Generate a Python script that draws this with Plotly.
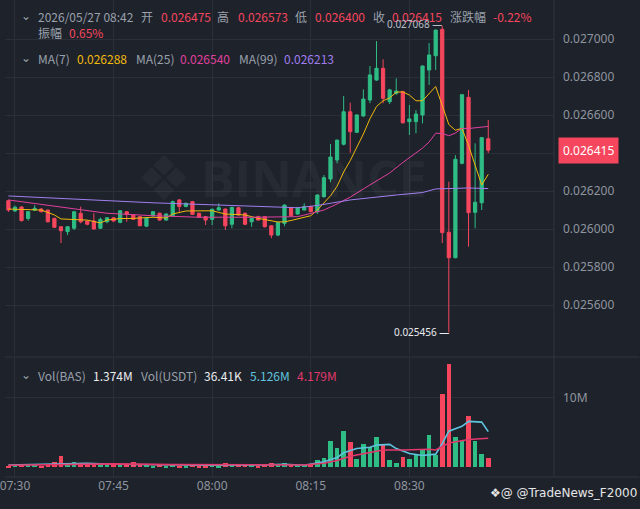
import pandas as pd
import plotly.graph_objects as go
from plotly.subplots import make_subplots

# 1-minute candles, 07:29 -> 08:42
start_time = "2026-05-27 07:29"

opens = [0.026149, 0.026095, 0.026116, 0.026056, 0.026099, 0.026105, 0.026100, 0.026056, 0.026012, 0.025986,
         0.026004, 0.026083, 0.026042, 0.026042, 0.026004, 0.026038, 0.026059, 0.026035, 0.026091, 0.026074,
         0.026065, 0.026015, 0.026070, 0.026083, 0.026047, 0.026070, 0.026153, 0.026118, 0.026144, 0.026083,
         0.026065, 0.026051, 0.026100, 0.026105, 0.026025, 0.026112, 0.026083, 0.026038, 0.026065, 0.026065,
         0.026017, 0.025968, 0.026030, 0.026112, 0.026079, 0.026100, 0.026118, 0.026091, 0.026170, 0.026263,
         0.026363, 0.026446, 0.026617, 0.026509, 0.026595, 0.026679, 0.026784, 0.026846, 0.026670, 0.026714,
         0.026723, 0.026565, 0.026565, 0.026600, 0.026837, 0.026912, 0.027051, 0.025983, 0.025849, 0.026346,
         0.026693, 0.026088, 0.026138, 0.026475]
highs = [0.026155, 0.026123, 0.026120, 0.026095, 0.026126, 0.026110, 0.026102, 0.026060, 0.026012, 0.026015,
         0.026093, 0.026118, 0.026045, 0.026083, 0.026060, 0.026062, 0.026062, 0.026100, 0.026093, 0.026078,
         0.026068, 0.026062, 0.026093, 0.026086, 0.026083, 0.026150, 0.026158, 0.026140, 0.026148, 0.026085,
         0.026068, 0.026107, 0.026135, 0.026108, 0.026116, 0.026115, 0.026086, 0.026058, 0.026070, 0.026068,
         0.026020, 0.026038, 0.026130, 0.026116, 0.026116, 0.026135, 0.026120, 0.026182, 0.026284, 0.026447,
         0.026470, 0.026700, 0.026665, 0.026605, 0.026735, 0.026858, 0.026989, 0.026893, 0.026738, 0.026793,
         0.026728, 0.026653, 0.026626, 0.026860, 0.026979, 0.027050, 0.027068, 0.026249, 0.026389, 0.026710,
         0.026732, 0.026451, 0.026484, 0.026573]
lows = [0.026090, 0.026090, 0.026040, 0.026044, 0.026095, 0.026088, 0.026035, 0.026005, 0.025926, 0.025968,
        0.025995, 0.026030, 0.026020, 0.025998, 0.026000, 0.026030, 0.026038, 0.026030, 0.026038, 0.026048,
        0.026015, 0.026010, 0.026065, 0.026044, 0.026044, 0.026068, 0.026091, 0.026115, 0.026074, 0.026060,
        0.026021, 0.026021, 0.026098, 0.025995, 0.026004, 0.026070, 0.026020, 0.026012, 0.026044, 0.026008,
        0.025951, 0.025962, 0.026015, 0.026065, 0.026075, 0.026098, 0.026088, 0.026079, 0.026165, 0.026246,
        0.026346, 0.026440, 0.026402, 0.026505, 0.026590, 0.026662, 0.026780, 0.026662, 0.026658, 0.026705,
        0.026555, 0.026495, 0.026504, 0.026556, 0.026758, 0.026837, 0.025926, 0.025456, 0.025846, 0.026340,
        0.025907, 0.026004, 0.026100, 0.026400]
closes = [0.026100, 0.026115, 0.026044, 0.026091, 0.026109, 0.026091, 0.026038, 0.026009, 0.025991, 0.026012,
          0.026091, 0.026038, 0.026025, 0.026000, 0.026051, 0.026059, 0.026042, 0.026096, 0.026077, 0.026051,
          0.026017, 0.026059, 0.026091, 0.026047, 0.026079, 0.026144, 0.026118, 0.026135, 0.026077, 0.026062,
          0.026047, 0.026104, 0.026112, 0.026017, 0.026114, 0.026074, 0.026025, 0.026056, 0.026047, 0.026012,
          0.025968, 0.026035, 0.026126, 0.026070, 0.026112, 0.026118, 0.026091, 0.026179, 0.026270, 0.026379,
          0.026468, 0.026617, 0.026512, 0.026600, 0.026684, 0.026811, 0.026846, 0.026688, 0.026732, 0.026726,
          0.026559, 0.026579, 0.026605, 0.026858, 0.026916, 0.027047, 0.025981, 0.025849, 0.026367, 0.026707,
          0.026086, 0.026141, 0.026481, 0.026415]

# volume in millions
volumes = [0.25, 0.35, 0.3, 0.35, 0.3, 0.25, 0.35, 0.8, 1.6, 0.35,
           0.8, 0.6, 0.5, 0.5, 0.45, 0.35, 0.3, 0.35, 0.3, 0.75,
           0.35, 0.3, 0.25, 0.3, 0.2, 0.3, 0.25, 0.2, 0.3, 0.2,
           0.25, 0.3, 0.2, 0.7, 0.35, 0.3, 0.3, 0.3, 0.2, 0.3,
           0.65, 0.55, 0.65, 0.3, 0.3, 0.3, 0.3, 1.1, 1.4, 3.8,
           2.8, 5.2, 3.7, 1.2, 3.4, 2.9, 4.3, 3.2, 1.1, 0.6,
           1.5, 1.2, 1.9, 2.6, 4.7, 1.8, 10.6, 14.9, 4.3, 3.8,
           7.4, 3.8, 1.9, 1.374]

# moving averages (candle index, value)
ma7_idx = [0, 5, 7, 8, 10, 12, 14, 15, 17, 19, 22, 24, 25, 27, 31, 33, 36, 38, 41, 42, 43, 44, 45, 46,
           47, 48, 49, 50, 51, 52, 53, 54, 55, 56, 57, 58, 59, 60, 61, 62, 63, 64, 65, 66, 67, 68, 69,
           70, 71, 72, 73]
ma7_val = [0.026105, 0.026100, 0.026074, 0.026053, 0.026050, 0.026047, 0.026032, 0.026047, 0.026055,
           0.026056, 0.026062, 0.026058, 0.026079, 0.026095, 0.026096, 0.026079, 0.026074, 0.026056,
           0.026037, 0.026038, 0.026045, 0.026053, 0.026063, 0.026070, 0.026100, 0.026135, 0.026175,
           0.026225, 0.026300, 0.026360, 0.026430, 0.026500, 0.026580, 0.026645, 0.026675, 0.026690,
           0.026720, 0.026722, 0.026705, 0.026675, 0.026675, 0.026710, 0.026750, 0.026650, 0.026550,
           0.026520, 0.026530, 0.026440, 0.026335, 0.026232, 0.026288]
ma25_idx = [0, 3, 7, 12, 15, 22, 29, 37, 44, 46, 48, 50, 52, 54, 56, 58, 60, 62, 63, 64, 65, 66, 67,
            68, 69, 70, 71, 72, 73]
ma25_val = [0.026153, 0.026139, 0.026118, 0.026095, 0.026083, 0.026070, 0.026062, 0.026062, 0.026065,
            0.026082, 0.026100, 0.026132, 0.026168, 0.026211, 0.026253, 0.026295, 0.026350, 0.026398,
            0.026426, 0.026458, 0.026504, 0.026503, 0.026491, 0.026505, 0.026530, 0.026529, 0.026532,
            0.026537, 0.026540]
ma99_idx = [0, 22, 44, 47, 52, 57, 59, 63, 65, 67, 70, 73]
ma99_val = [0.026174, 0.026138, 0.026112, 0.026124, 0.026153, 0.026174, 0.026179, 0.026192, 0.026211,
            0.026213, 0.026216, 0.026213]

vol_ma5_idx = [0, 4, 8, 12, 16, 22, 30, 38, 42, 45, 47, 48, 50, 51, 53, 55, 56, 58, 59, 61, 63, 65,
               66, 67, 69, 70, 72, 73]
vol_ma5_val = [0.35, 0.45, 0.55, 0.6, 0.45, 0.35, 0.3, 0.35, 0.45, 0.3, 0.6, 0.8, 1.4, 2.1, 2.7, 2.9,
               3.2, 3.3, 2.7, 2.0, 1.7, 1.9, 3.4, 5.2, 5.9, 6.6, 6.5, 5.126]
vol_ma10_idx = [0, 8, 16, 25, 35, 45, 48, 50, 52, 55, 57, 60, 64, 65, 67, 70, 73]
vol_ma10_val = [0.3, 0.45, 0.5, 0.4, 0.35, 0.35, 0.6, 1.0, 1.6, 2.1, 2.5, 2.5, 2.6, 2.5, 3.5, 4.0, 4.179]

price_ticks = [0.0256, 0.0258, 0.026, 0.0262, 0.0264, 0.0266, 0.0268, 0.027]
time_ticks = ["2026-05-27 07:30", "2026-05-27 07:45", "2026-05-27 08:00",
              "2026-05-27 08:15", "2026-05-27 08:30"]

GREEN = "#2ebd85"
RED = "#f6465d"
BG = "#1e222b"
GRID = "#2a2f38"
GREY = "#8e959f"

times = pd.date_range(start_time, periods=len(opens), freq="min")
bar_colors = [GREEN if c >= o else RED for o, c in zip(opens, closes)]

fig = make_subplots(rows=2, cols=1, shared_xaxes=True, vertical_spacing=0)

fig.add_trace(go.Candlestick(
    x=times, open=opens, high=highs, low=lows, close=closes,
    increasing=dict(line=dict(color=GREEN, width=1), fillcolor=GREEN),
    decreasing=dict(line=dict(color=RED, width=1), fillcolor=RED),
    whiskerwidth=0, showlegend=False, hoverinfo="skip"), row=1, col=1)

for idx, val, col in [(ma7_idx, ma7_val, "#f0b90b"),
                      (ma25_idx, ma25_val, "#e0409f"),
                      (ma99_idx, ma99_val, "#a07ef0")]:
    fig.add_trace(go.Scatter(x=times[idx], y=val, mode="lines",
                             line=dict(color=col, width=1), showlegend=False,
                             hoverinfo="skip"), row=1, col=1)

fig.add_trace(go.Bar(x=times, y=volumes, marker=dict(color=bar_colors, line=dict(width=0)),
                     width=42000, showlegend=False, hoverinfo="skip"), row=2, col=1)
fig.add_trace(go.Scatter(x=times[vol_ma5_idx], y=vol_ma5_val, mode="lines",
                         line=dict(color="#5ec4de", width=1.6), showlegend=False,
                         hoverinfo="skip"), row=2, col=1)
fig.add_trace(go.Scatter(x=times[vol_ma10_idx], y=vol_ma10_val, mode="lines",
                         line=dict(color="#e2386b", width=1.6), showlegend=False,
                         hoverinfo="skip"), row=2, col=1)

x_range = [times[0] - pd.Timedelta(seconds=31), times[0] + pd.Timedelta(minutes=83)]

fig.update_xaxes(range=x_range, showgrid=True, gridcolor=GRID, gridwidth=1, zeroline=False,
                 tickvals=time_ticks, tickformat="%H:%M", showline=False, ticks="",
                 ticklabeloverflow="allow", rangeslider=dict(visible=False))
fig.update_xaxes(showticklabels=False, row=1, col=1)
fig.update_xaxes(tickfont=dict(family="Noto Sans", size=12, color=GREY), row=2, col=1)

# the last-price tag sits on the 0.026400 level, so that label stays blank
price_text = ["" if abs(p - 0.0264) < 1e-9 else f"{p:.6f}" for p in price_ticks]

fig.update_layout(
    width=640, height=509,
    margin=dict(l=0, r=86, t=0, b=32),
    paper_bgcolor=BG, plot_bgcolor=BG,
    yaxis=dict(domain=[1 - 355 / 477, 1], side="right", range=[0.025337, 0.0272053],
               tickvals=price_ticks, ticktext=price_text, showgrid=True, gridcolor=GRID,
               zeroline=False, ticks="", ticklabelstandoff=8,
               tickfont=dict(family="Noto Sans", size=12, color=GREY)),
    yaxis2=dict(domain=[0, 1 - 358 / 477], side="right", range=[-1.38, 15.7],
                tickvals=[10], ticktext=["10M"], showgrid=True, gridcolor=GRID,
                zeroline=False, ticks="", ticklabelstandoff=8,
                tickfont=dict(family="Noto Sans", size=12, color=GREY)),
    bargap=0,
)

W, H = 554, 477


def px(x, y):
    return x / W, 1 - y / H


def label(x, y, text, color, size=12, family="Noto Sans CJK SC", anchor="left"):
    ax, ay = px(x, y)
    fig.add_annotation(x=ax, y=ay, xref="paper", yref="paper", text=text, showarrow=False,
                       xanchor=anchor, yanchor="middle",
                       font=dict(family=family, size=size, color=color))


# watermark
label(160, 178, "❖", "rgba(255,255,255,0.04)", size=62, family="DejaVu Sans", anchor="center")
label(312, 178, "<b>BINANCE</b>", "rgba(255,255,255,0.04)", size=50, family="Open Sans", anchor="center")

# header rows
KEY = "#9aa1ab"
label(14, 16, "⌄", KEY, family="DejaVu Sans")
label(31, 16, "2026/05/27 08:42", KEY)
label(135, 16, "开", KEY)
label(155, 16, "0.026475", RED)
label(212, 16, "高", KEY)
label(233, 16, "0.026573", RED)
label(291, 16, "低", KEY)
label(311, 16, "0.026400", RED)
label(369, 16, "收", KEY)
label(389, 16, "0.026415", RED)
label(447, 16, "涨跌幅", KEY)
label(490, 16, "-0.22%", RED)
label(31, 33, "振幅", KEY)
label(63, 33, "0.65%", RED)

label(14, 58, "⌄", KEY, family="DejaVu Sans")
label(31, 58, "MA(7)", KEY)
label(71, 58, "0.026288", "#f0b90b")
label(130, 58, "MA(25)", KEY)
label(175, 58, "0.026540", "#e0409f")
label(234, 58, "MA(99)", KEY)
label(280, 58, "0.026213", "#a07ef0")

label(14, 375, "⌄", KEY, family="DejaVu Sans")
label(31, 375, "Vol(BAS)", KEY)
label(87, 375, "1.374M", "#eaecef")
label(135, 375, "Vol(USDT)", KEY)
label(199, 375, "36.41K", "#eaecef")
label(245, 375, "5.126M", "#5ec4de")
label(293, 375, "4.179M", "#e2386b")

# high / low markers
hi = highs.index(max(highs))
lo = lows.index(min(lows))
fig.add_annotation(x=times[hi], y=highs[hi], xref="x", yref="y", text=f"{highs[hi]:.6f} —",
                   showarrow=False, xanchor="right", yanchor="middle", xshift=2, yshift=2,
                   font=dict(family="Noto Sans", size=10, color="#b7bdc6"))
fig.add_annotation(x=times[lo], y=lows[lo], xref="x", yref="y", text=f"{lows[lo]:.6f} —",
                   showarrow=False, xanchor="right", yanchor="middle", xshift=2,
                   font=dict(family="Noto Sans", size=10, color="#eaecef"))

# last price tag
fig.add_annotation(x=589 / W, y=closes[-1], xref="paper", yref="y", text=f"{closes[-1]:.6f}",
                   showarrow=False, xanchor="center", yanchor="middle", bgcolor=RED,
                   borderpad=4, font=dict(family="Noto Sans", size=12, color="#ffffff"))

# panel separators
fig.add_shape(type="line", xref="paper", yref="paper", x0=1, x1=1, y0=0, y1=1,
              line=dict(color="#2f3540", width=1))
fig.add_shape(type="line", xref="paper", yref="paper", x0=0, x1=640 / W, y0=1 - 357 / H,
              y1=1 - 357 / H, line=dict(color="#2f3540", width=1))
fig.add_shape(type="line", xref="paper", yref="paper", x0=0, x1=640 / W, y0=0, y1=0,
              line=dict(color="#2f3540", width=1))

# bottom-right watermark
label(487, 493, "❖@ @TradeNews_F2000", "#e6e6e6", size=12, family="DejaVu Sans")

fig.write_html("out.html", config={"displayModeBar": False},
               post_script="document.body.style.margin='0';")
